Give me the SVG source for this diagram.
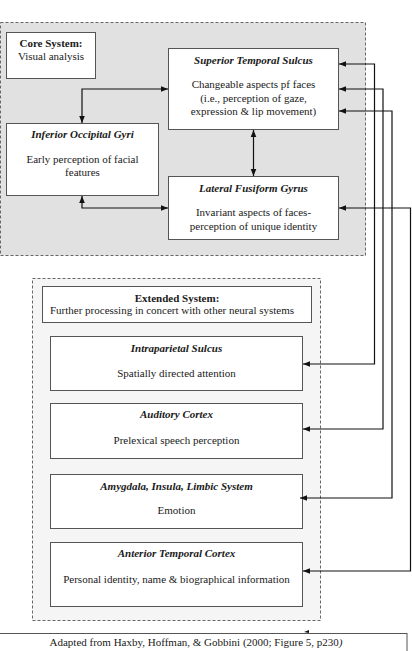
<svg xmlns="http://www.w3.org/2000/svg" width="412" height="651" viewBox="0 0 412 651">
<style>
text{font-family:"Liberation Serif","Times New Roman",serif;font-size:11px;fill:#1a1a1a;text-anchor:middle}
.t{font-weight:bold;font-style:italic}
.b{font-weight:bold}
.box{fill:#fff;stroke:#555;stroke-width:1}
.grp{stroke:#666;stroke-width:1;stroke-dasharray:3,2}
.ln{fill:none;stroke:#111;stroke-width:1.2}
</style>
<defs>
<marker id="ah" viewBox="0 0 10 10" refX="10" refY="5" markerWidth="7" markerHeight="7" orient="auto-start-reverse" markerUnits="userSpaceOnUse">
<path d="M0,1 L10,5 L0,9 z" fill="#111"/>
</marker>
</defs>
<rect width="412" height="651" fill="#fff"/>
<g id="core-group">
<rect class="grp" x="0.5" y="22.5" width="365" height="233" fill="#e1e1e1"/>
</g>
<g id="extended-group">
<rect class="grp" x="32.5" y="278.5" width="288" height="342" fill="#f5f5f5"/>
</g>
<g id="core-system">
<rect class="box" x="6.5" y="32.5" width="89" height="46"/>
<text class="b" x="51" y="47">Core System:</text>
<text x="51" y="60">Visual analysis</text>
</g>
<g id="sts">
<rect class="box" x="168.5" y="48.5" width="170" height="81"/>
<text class="t" x="253.5" y="64">Superior Temporal Sulcus</text>
<text x="253.5" y="88">Changeable aspects pf faces</text>
<text x="253.5" y="102">(i.e., perception of gaze,</text>
<text x="253.5" y="115">expression &amp; lip movement)</text>
</g>
<g id="iog">
<rect class="box" x="6.5" y="123.5" width="152" height="72"/>
<text class="t" x="82.5" y="138">Inferior Occipital Gyri</text>
<text x="82.5" y="163">Early perception of facial</text>
<text x="82.5" y="176">features</text>
</g>
<g id="lfg">
<rect class="box" x="168.5" y="176.5" width="170" height="63"/>
<text class="t" x="253.5" y="192">Lateral Fusiform Gyrus</text>
<text x="253.5" y="216">Invariant aspects of faces-</text>
<text x="253.5" y="230">perception of unique identity</text>
</g>
<g id="extended-system">
<rect class="box" x="42.5" y="286.5" width="269" height="36"/>
<text class="b" x="177" y="302">Extended System:</text>
<text x="172" y="314">Further processing in concert with other neural systems</text>
</g>
<g id="ips">
<rect class="box" x="50.5" y="336.5" width="252" height="54"/>
<text class="t" x="176.5" y="352">Intraparietal Sulcus</text>
<text x="176.5" y="377">Spatially directed attention</text>
</g>
<g id="auditory">
<rect class="box" x="50.5" y="403.5" width="252" height="55"/>
<text class="t" x="176.5" y="418">Auditory Cortex</text>
<text x="176.5" y="444">Prelexical speech perception</text>
</g>
<g id="amygdala">
<rect class="box" x="50.5" y="474.5" width="252" height="54"/>
<text class="t" x="176.5" y="490">Amygdala, Insula, Limbic System</text>
<text x="176.5" y="514">Emotion</text>
</g>
<g id="anterior">
<rect class="box" x="50.5" y="542.5" width="252" height="64"/>
<text class="t" x="176.5" y="557">Anterior Temporal Cortex</text>
<text x="176.5" y="583">Personal identity, name &amp; biographical information</text>
</g>
<g id="citation">
<rect class="box" x="-1" y="633.5" width="408" height="30"/>
<text x="196" y="646" font-size="12.2">Adapted from Haxby, Hoffman, &amp; Gobbini (2000; Figure 5, p230<tspan font-style="italic">)</tspan></text>
<path d="M304,632 L309,630 L309,633 z" fill="#111"/>
</g>
<g id="connectors">
<path class="ln" d="M168,89 H82 V123" marker-start="url(#ah)" marker-end="url(#ah)"/>
<path class="ln" d="M82,196 V208 H168" marker-start="url(#ah)" marker-end="url(#ah)"/>
<path class="ln" d="M253.5,130 V176" marker-start="url(#ah)" marker-end="url(#ah)"/>
<path class="ln" d="M339,64 H374.5 V364 H303" marker-start="url(#ah)" marker-end="url(#ah)"/>
<path class="ln" d="M339,89 H383 V429 H303" marker-start="url(#ah)" marker-end="url(#ah)"/>
<path class="ln" d="M339,111 H392 V498 H300" marker-start="url(#ah)" marker-end="url(#ah)"/>
<path class="ln" d="M339,208 H410.5 V571 H303" marker-start="url(#ah)" marker-end="url(#ah)"/>
</g>
</svg>
